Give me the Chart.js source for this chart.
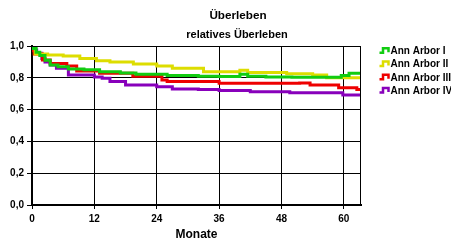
<!DOCTYPE html>
<html>
<head>
<meta charset="utf-8">
<script src="https://cdn.jsdelivr.net/npm/chart.js@4/dist/chart.umd.min.js"></script>
<style>
html,body{margin:0;padding:0;background:#fff;}
canvas{display:block;}
</style>
</head>
<body>
<canvas id="c" width="451" height="244"></canvas>
<script>
// ---- data ----
const seriesLabels = ['Ann Arbor I', 'Ann Arbor II', 'Ann Arbor III', 'Ann Arbor IV'];
const seriesColors = ['#11cc11', '#dddd00', '#ee0000', '#8800bb'];

const monthsI  = [0, 0.8, 1.5, 2.5, 3.5, 5, 7, 10, 13, 17, 20, 26, 32, 36, 40, 41.5, 45, 50, 59.5, 61, 63.3];
const valuesI  = [0.985, 0.96, 0.94, 0.91, 0.88, 0.87, 0.855, 0.85, 0.838, 0.83, 0.822, 0.815, 0.81, 0.808, 0.822, 0.81, 0.805, 0.803, 0.815, 0.828, 0.828];

const monthsII = [0, 0.6, 3, 6, 9.2, 12.4, 15, 19.5, 24, 27, 33, 40, 41.5, 49, 54, 56.7, 63.3];
const valuesII = [0.985, 0.95, 0.943, 0.937, 0.922, 0.907, 0.9, 0.887, 0.874, 0.86, 0.838, 0.847, 0.834, 0.826, 0.818, 0.8, 0.8];

const monthsIII = [0, 0.4, 2, 3.5, 6.7, 8.6, 13, 19.4, 25, 26, 36, 51.5, 53.5, 59, 62.5, 63.3];
const valuesIII = [0.97, 0.95, 0.912, 0.89, 0.874, 0.843, 0.828, 0.81, 0.786, 0.776, 0.765, 0.768, 0.755, 0.738, 0.727, 0.727];

const monthsIV = [0, 0.9, 1.9, 2.5, 3.5, 4.7, 7, 12, 13.5, 15, 18, 24, 27, 32, 36, 42, 49.6, 59.8, 63.3];
const valuesIV = [0.975, 0.954, 0.922, 0.9, 0.88, 0.86, 0.818, 0.805, 0.797, 0.776, 0.755, 0.744, 0.73, 0.727, 0.72, 0.713, 0.706, 0.692, 0.692];

const xTickLabels = ['0', '12', '24', '36', '48', '60'];
const yTickLabels = ['0,0', '0,2', '0,4', '0,6', '0,8', '1,0'];
const titleText = 'Überleben';
const subtitleText = 'relatives Überleben';
const xAxisTitle = 'Monate';

// ---- build ----
const allMonths = [monthsI, monthsII, monthsIII, monthsIV];
const allValues = [valuesI, valuesII, valuesIII, valuesIV];
const datasets = seriesLabels.map((lab, i) => ({
  label: lab,
  data: allMonths[i].map((m, j) => ({x: m, y: allValues[i][j]})),
  borderColor: seriesColors[i],
  backgroundColor: seriesColors[i],
  borderWidth: 3,
  stepped: true,
  pointRadius: 0,
  fill: false
}));

const FONT = "'Liberation Sans', Arial, sans-serif";

const decorPlugin = {
  id: 'decor',
  afterDatasetsDraw(chart) {
    const ctx = chart.ctx, a = chart.chartArea;
    ctx.save();
    ctx.strokeStyle = '#000';
    ctx.lineWidth = 1;
    ctx.beginPath();
    ctx.moveTo(Math.round(a.right) - 0.5, a.top);
    ctx.lineTo(Math.round(a.right) - 0.5, a.bottom);
    ctx.stroke();
    ctx.restore();
  },
  afterDraw(chart) {
    const ctx = chart.ctx;
    ctx.save();
    ctx.fillStyle = '#000';
    ctx.textAlign = 'center';
    ctx.textBaseline = 'alphabetic';
    ctx.font = 'bold 11.7px ' + FONT;
    ctx.fillText(titleText, 238, 18.5);
    ctx.font = 'bold 11px ' + FONT;
    ctx.fillText(subtitleText, 237, 38);
    // legend
    ctx.textAlign = 'left';
    ctx.textBaseline = 'middle';
    ctx.font = 'bold 10px ' + FONT;
    chart.data.datasets.forEach((ds, i) => {
      const c = 50.7 + i * 13.3;
      ctx.strokeStyle = ds.borderColor;
      ctx.lineWidth = 2.5;
      ctx.lineJoin = 'miter';
      ctx.beginPath();
      ctx.moveTo(379.5, c + 2);
      ctx.lineTo(383, c + 2);
      ctx.lineTo(383, c - 2.5);
      ctx.lineTo(388.5, c - 2.5);
      ctx.lineTo(388.5, c + 1.5);
      ctx.stroke();
      ctx.fillStyle = '#000';
      ctx.fillText(ds.label, 390.5, c + 0.5);
    });
    ctx.restore();
  }
};

new Chart(document.getElementById('c'), {
  type: 'line',
  data: {datasets},
  options: {
    responsive: false,
    animation: false,
    devicePixelRatio: 1,
    layout: {padding: {top: 46, right: 90, left: 0, bottom: 0}},
    plugins: {legend: {display: false}, title: {display: false}, tooltip: {enabled: false}},
    scales: {
      x: {
        type: 'linear',
        min: 0,
        max: 63.3,
        z: 1,
        afterFit(s) { s.height = 39; },
        ticks: {
          stepSize: 12,
          includeBounds: false,
          autoSkip: false,
          maxRotation: 0,
          padding: 4,
          color: '#000',
          font: {family: FONT, size: 10, weight: 'bold'},
          callback: (v, i) => xTickLabels[i]
        },
        grid: {color: '#000', lineWidth: 1, tickLength: 4, tickColor: '#000'},
        border: {display: true, color: '#000', width: 2},
        title: {display: true, text: xAxisTitle, color: '#000', font: {family: FONT, size: 12, weight: 'bold'}, padding: {top: 0, bottom: 2}}
      },
      y: {
        min: 0,
        max: 1,
        z: 1,
        afterFit(s) { s.width = 32; },
        ticks: {
          stepSize: 0.2,
          autoSkip: false,
          padding: 3,
          color: '#000',
          font: {family: FONT, size: 10, weight: 'bold'},
          callback: (v, i) => yTickLabels[i]
        },
        grid: {color: '#000', lineWidth: 1, tickLength: 5, tickColor: '#000'},
        border: {display: true, color: '#000', width: 2}
      }
    }
  },
  plugins: [decorPlugin]
});
</script>
</body>
</html>
